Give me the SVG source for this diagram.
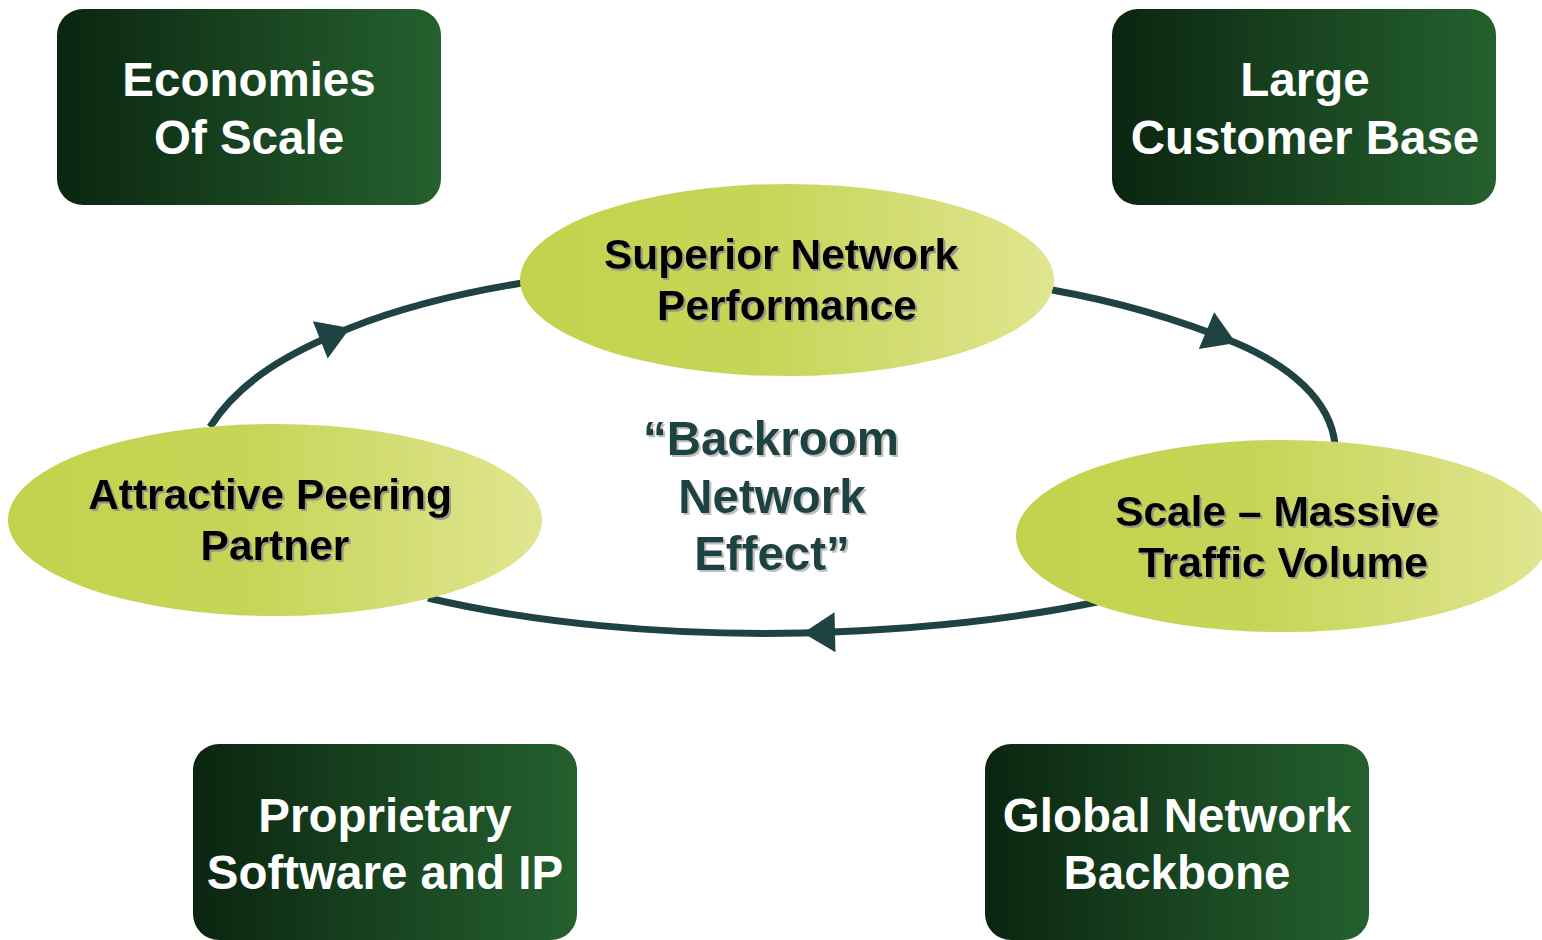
<svg xmlns="http://www.w3.org/2000/svg" width="1542" height="940" viewBox="0 0 1542 940">
  <defs>
    <linearGradient id="gRect" x1="0" y1="0" x2="1" y2="0">
      <stop offset="0" stop-color="#0b2510"/>
      <stop offset="0.5" stop-color="#184420"/>
      <stop offset="1" stop-color="#25602e"/>
    </linearGradient>
    <linearGradient id="gEll" x1="0" y1="0" x2="1" y2="0">
      <stop offset="0" stop-color="#c3d34d"/>
      <stop offset="0.45" stop-color="#c6d557"/>
      <stop offset="1" stop-color="#e0e590"/>
    </linearGradient>
    <filter id="shadow" x="-5%" y="-20%" width="110%" height="140%">
      <feDropShadow dx="2" dy="2" stdDeviation="0.6" flood-color="#8a8a8a" flood-opacity="0.8"/>
    </filter>
    <filter id="shadowLight" x="-5%" y="-20%" width="110%" height="140%">
      <feDropShadow dx="2" dy="2" stdDeviation="0.6" flood-color="#b8b8b8" flood-opacity="0.9"/>
    </filter>
    <marker id="arrow" markerUnits="userSpaceOnUse" markerWidth="40" markerHeight="40" viewBox="0 0 32 40" refX="32" refY="20" orient="auto">
      <path d="M0,0 L32,20 L0,40 Z" fill="#1f4242"/>
    </marker>
  </defs>
  <style>
    .box { fill: url(#gRect); }
    .ell { fill: url(#gEll); }
    .boxText { font-family: "Liberation Sans", Arial, sans-serif; font-weight: bold; font-size: 47.5px; fill: #ffffff; text-anchor: middle; }
    .ellText { font-family: "Liberation Sans", Arial, sans-serif; font-weight: bold; font-size: 42.5px; fill: #000000; text-anchor: middle; filter: url(#shadow); }
    .centerText { font-family: "Liberation Sans", Arial, sans-serif; font-weight: bold; font-size: 47.5px; fill: #1f4242; text-anchor: middle; filter: url(#shadowLight); }
    .conn { fill: none; stroke: #1f4242; stroke-width: 7; marker-mid: url(#arrow); }
  </style>

  <g id="connectors">
    <path class="conn" d="M210,427 C240,380 290,352 350,328 C400,308 455,294 522,283"/>
    <path class="conn" d="M1052,290 C1120,302 1180,320 1236,343 C1290,366 1330,400 1335,444"/>
    <path class="conn" d="M1097,602 C1010,620 910,630 803,633 C660,636 530,622 428,598"/>
  </g>

  <g id="economies-of-scale">
    <rect class="box" x="57" y="9" width="384" height="196" rx="26"/>
    <text class="boxText" x="249" y="96">Economies</text>
    <text class="boxText" x="249" y="154">Of Scale</text>
  </g>

  <g id="large-customer-base">
    <rect class="box" x="1112" y="9" width="384" height="196" rx="26"/>
    <text class="boxText" x="1305" y="96">Large</text>
    <text class="boxText" x="1305" y="154">Customer Base</text>
  </g>

  <g id="proprietary-software">
    <rect class="box" x="193" y="744" width="384" height="196" rx="26"/>
    <text class="boxText" x="385" y="832">Proprietary</text>
    <text class="boxText" x="385" y="889">Software and IP</text>
  </g>

  <g id="global-network-backbone">
    <rect class="box" x="985" y="744" width="384" height="196" rx="26"/>
    <text class="boxText" x="1177" y="832">Global Network</text>
    <text class="boxText" x="1177" y="889">Backbone</text>
  </g>

  <g id="superior-network-performance">
    <ellipse class="ell" cx="787" cy="280" rx="267" ry="96"/>
    <text class="ellText" x="781" y="269">Superior Network</text>
    <text class="ellText" x="787" y="320">Performance</text>
  </g>

  <g id="attractive-peering-partner">
    <ellipse class="ell" cx="275" cy="520" rx="267" ry="96"/>
    <text class="ellText" x="270" y="509">Attractive Peering</text>
    <text class="ellText" x="275" y="560">Partner</text>
  </g>

  <g id="scale-massive-traffic">
    <ellipse class="ell" cx="1283" cy="536" rx="267" ry="96"/>
    <text class="ellText" x="1277" y="526">Scale – Massive</text>
    <text class="ellText" x="1283" y="577">Traffic Volume</text>
  </g>

  <g id="backroom-network-effect">
    <text class="centerText" x="771" y="455">“Backroom</text>
    <text class="centerText" x="772" y="513">Network</text>
    <text class="centerText" x="772" y="570">Effect”</text>
  </g>
</svg>
